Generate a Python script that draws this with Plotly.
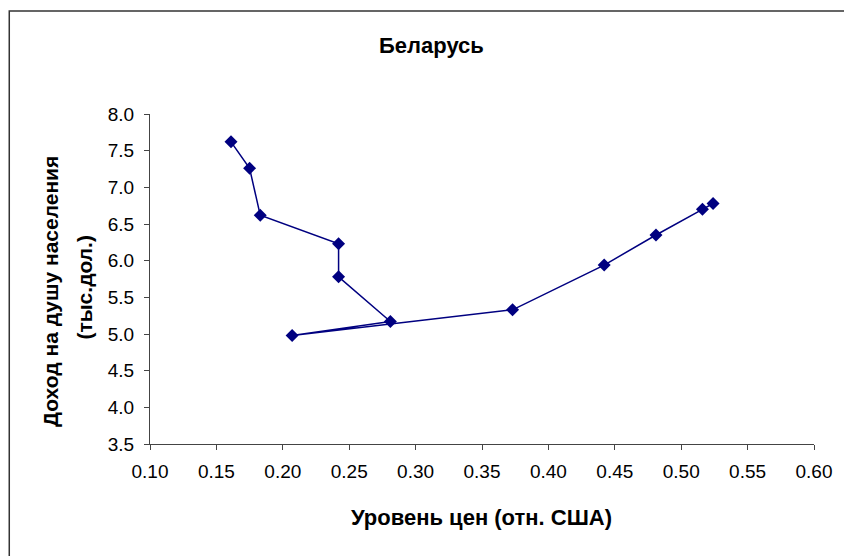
import plotly.graph_objects as go

# Price level relative to the USA and per-capita income (thousand dollars), Belarus
price_level = [0.161, 0.175, 0.183, 0.242, 0.242, 0.281, 0.207, 0.373, 0.442, 0.481, 0.516, 0.524]
income = [7.62, 7.26, 6.62, 6.23, 5.78, 5.17, 4.98, 5.33, 5.94, 6.35, 6.70, 6.78]

title_text = "Беларусь"
x_title = "Уровень цен (отн. США)"
y_title_lines = ["Доход на душу населения", "(тыс.дол.)"]

NAVY = "#000080"
FONT = "Liberation Sans, Arial, sans-serif"

W, H = 844, 556
L, R, T, B = 150, 24, 114, 112
pw, ph = W - L - R, H - T - B


def px_x(px):
    return (px - L) / pw


def px_y(py):
    return (H - B - py) / ph


fig = go.Figure(
    go.Scatter(
        x=price_level,
        y=income,
        mode="lines+markers",
        line=dict(color=NAVY, width=1.5),
        marker=dict(symbol="diamond", size=10, color=NAVY),
        showlegend=False,
    )
)

axis_common = dict(
    showgrid=False,
    zeroline=False,
    showline=True,
    linecolor="#444444",
    linewidth=1,
    ticks="outside",
    ticklen=5,
    tickcolor="#444444",
    tickfont=dict(family=FONT, size=19, color="black"),
)

fig.update_xaxes(range=[0.1, 0.6], dtick=0.05, tick0=0.1, tickformat=".2f",
                 ticklabelstandoff=5, **axis_common)
fig.update_yaxes(range=[3.5, 8.0], dtick=0.5, tick0=3.5, tickformat=".1f",
                 ticklabelstandoff=6, **axis_common)

annotations = [
    dict(text=f"<b>{title_text}</b>", x=px_x(434), y=px_y(45), size=22),
    dict(text=f"<b>{x_title}</b>", x=px_x(484), y=px_y(517), size=22),
    dict(text=f"<b>{y_title_lines[0]}</b>", x=px_x(49), y=px_y(291), textangle=-90, size=21),
    dict(text=f"<b>{y_title_lines[1]}</b>", x=px_x(83), y=px_y(287), textangle=-90, size=21),
]
for a in annotations:
    size = a.pop("size")
    a.update(xref="paper", yref="paper", xanchor="center", yanchor="middle",
             showarrow=False, font=dict(family=FONT, size=size, color="black"))

fig.update_layout(
    width=W,
    height=H,
    margin=dict(l=L, r=R, t=T, b=B),
    paper_bgcolor="white",
    plot_bgcolor="white",
    annotations=annotations,
    shapes=[
        dict(type="rect", xref="paper", yref="paper",
             x0=px_x(8), y0=px_y(580), x1=px_x(870), y1=px_y(11),
             line=dict(color="#333333", width=1.5), fillcolor="rgba(0,0,0,0)", layer="below"),
    ],
)

fig.write_html("out.html")
